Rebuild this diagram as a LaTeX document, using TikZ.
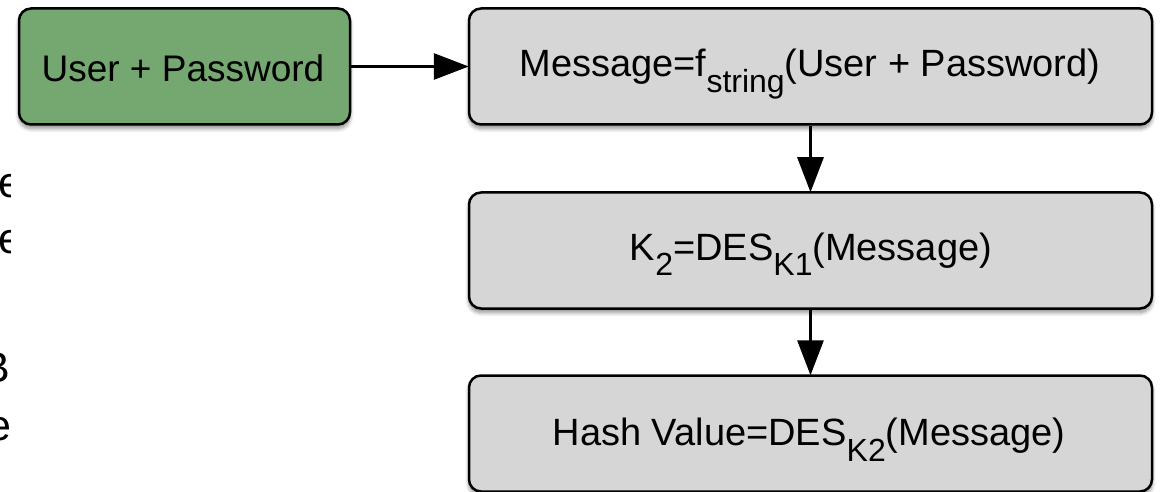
\documentclass[tikz,border=0pt]{standalone}
\usepackage{fontspec}
\setmainfont{Liberation Sans}
\usetikzlibrary{arrows.meta,shadows.blur}
\definecolor{boxgreen}{HTML}{74A870}
\definecolor{boxgray}{HTML}{D6D6D6}
\newcommand{\mysub}[1]{\raisebox{-16pt}{\fontsize{32}{32}\selectfont #1}}
\tikzset{
  box/.style={draw=black, line width=2.5pt, rounded corners=12pt, minimum height=116pt,
    blur shadow={shadow xshift=0pt, shadow yshift=-4pt, shadow blur radius=4pt, shadow blur steps=8, shadow opacity=45}},
  graybox/.style={box, fill=boxgray, minimum width=683pt},
  greenbox/.style={box, fill=boxgreen, minimum width=331pt},
  lbl/.style={anchor=base, inner sep=0pt, font=\fontsize{38}{45}\selectfont},
  glbl/.style={anchor=base, inner sep=0pt, font=\fontsize{37}{44}\selectfont},
  frag/.style={inner sep=0pt, font=\fontsize{43}{50}\selectfont},
  conn/.style={line width=3pt, -{Triangle[length=35pt,width=26pt]}, shorten >=-1pt}
}
\begin{document}
\begin{tikzpicture}[x=1pt,y=-1pt]
\useasboundingbox (0,0) rectangle (1163,492);
% cut-off fragments at the left edge
\begin{scope}
  \clip (0,150) rectangle (10,460);
  \node[frag, anchor=base west] (f1) at (-2,197) {e};
  \node[frag, anchor=base west] (f2) at (-2,253) {e};
  \node[frag, anchor=base east] (f3) at (10,382) {B};
  \node[frag, anchor=base east] (f4) at (12,440) {e};
\end{scope}
% boxes
\node[greenbox] (up) at (184.5,66.5) {};
\node[graybox] (msg) at (810.5,66.5) {};
\node[graybox] (k2) at (810.5,250.5) {};
\node[graybox] (hash) at (810.5,433.5) {};
% texts
\node[glbl] (tup) at (183,82) {User + Password};
\node[lbl] (tmsg) at (810,77) {Message=f\mysub{string}(User + Password)};
\node[lbl] (tk2) at (811,260) {K\mysub{2}=DES\mysub{K1}(Message)};
\node[lbl] (thash) at (809,445) {Hash Value=DES\mysub{K2}(Message)};
% connectors
\draw[conn] (up.east) -- (msg.west);
\draw[conn] (msg.south) -- (k2.north);
\draw[conn] (k2.south) -- (hash.north);
\end{tikzpicture}
\end{document}
